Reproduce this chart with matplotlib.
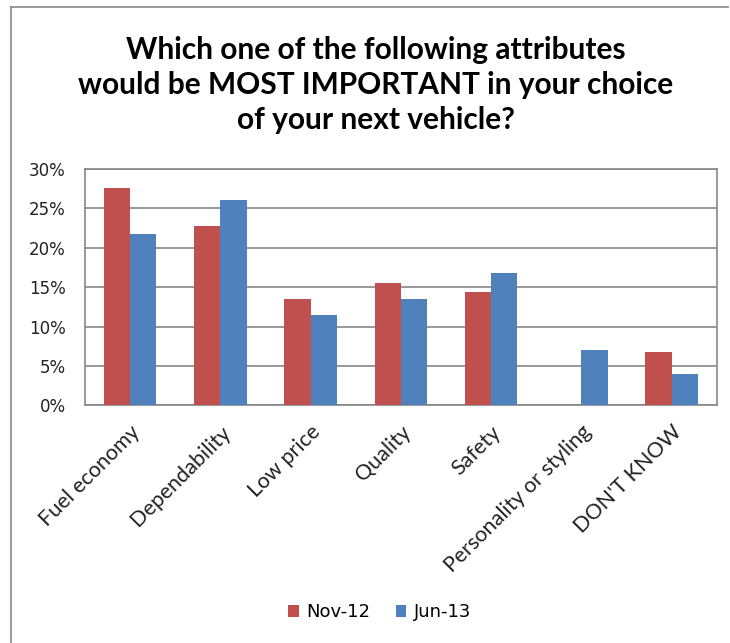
import numpy as np
import matplotlib
matplotlib.use("Agg")
import matplotlib.pyplot as plt
from matplotlib.lines import Line2D
from matplotlib.ticker import FuncFormatter

categories = ["Fuel economy", "Dependability", "Low price", "Quality",
              "Safety", "Personality or styling", "DON'T KNOW"]
nov_12 = [27.6, 22.8, 13.5, 15.5, 14.4, 0.0, 6.8]
jun_13 = [21.7, 26.1, 11.4, 13.5, 16.8, 7.0, 4.0]
series_names = ["Nov-12", "Jun-13"]

red = "#C0504D"
blue = "#4F81BD"
grey = "#868686"

fig = plt.figure(figsize=(7.3, 6.43), dpi=100)
ax = fig.add_axes([0.1164, 0.3697, 0.8654, 0.3675])

x = np.arange(len(categories))
w = 0.29
ax.bar(x - w / 2, nov_12, w, color=red, label=series_names[0], zorder=3)
ax.bar(x + w / 2, jun_13, w, color=blue, label=series_names[1], zorder=3)

ax.set_xlim(-0.5, len(categories) - 0.5)
ax.set_ylim(0, 30)
ax.set_yticks(np.arange(0, 31, 5))
ax.yaxis.set_major_formatter(FuncFormatter(lambda v, _: f"{v:.0f}%"))
ax.yaxis.grid(True, color=grey, linewidth=1.2, zorder=0)
ax.tick_params(axis="y", length=0, pad=14, labelsize=12, labelcolor="#222222")
ax.tick_params(axis="x", length=0, pad=12)
for s in ax.spines.values():
    s.set_color(grey)
    s.set_linewidth(1.2)

ax.set_xticks(x)
ax.set_xticklabels(categories, rotation=45, ha="right", va="top",
                   rotation_mode="anchor", family="Lato", fontsize=15.5,
                   color="#222222")

fig.text(0.515, 0.868, "Which one of the following attributes\n"
         "would be MOST IMPORTANT in your choice\nof your next vehicle?",
         ha="center", va="center", family="Lato", fontweight="bold",
         fontsize=21.5, linespacing=1.32)

fig.legend(loc="center", bbox_to_anchor=(0.52, 0.048), ncol=2, frameon=False,
           fontsize=13, handlelength=0.6, handleheight=0.6, handletextpad=0.4,
           columnspacing=1.4)

# outer chart frame (left and top edges)
fig.add_artist(Line2D([11 / 730, 11 / 730], [0, 1 - 7 / 643],
                      transform=fig.transFigure, color=grey, linewidth=1.2))
fig.add_artist(Line2D([11 / 730, 728 / 730], [1 - 7 / 643, 1 - 7 / 643],
                      transform=fig.transFigure, color=grey, linewidth=1.2))

fig.savefig("out.png", dpi=100)
